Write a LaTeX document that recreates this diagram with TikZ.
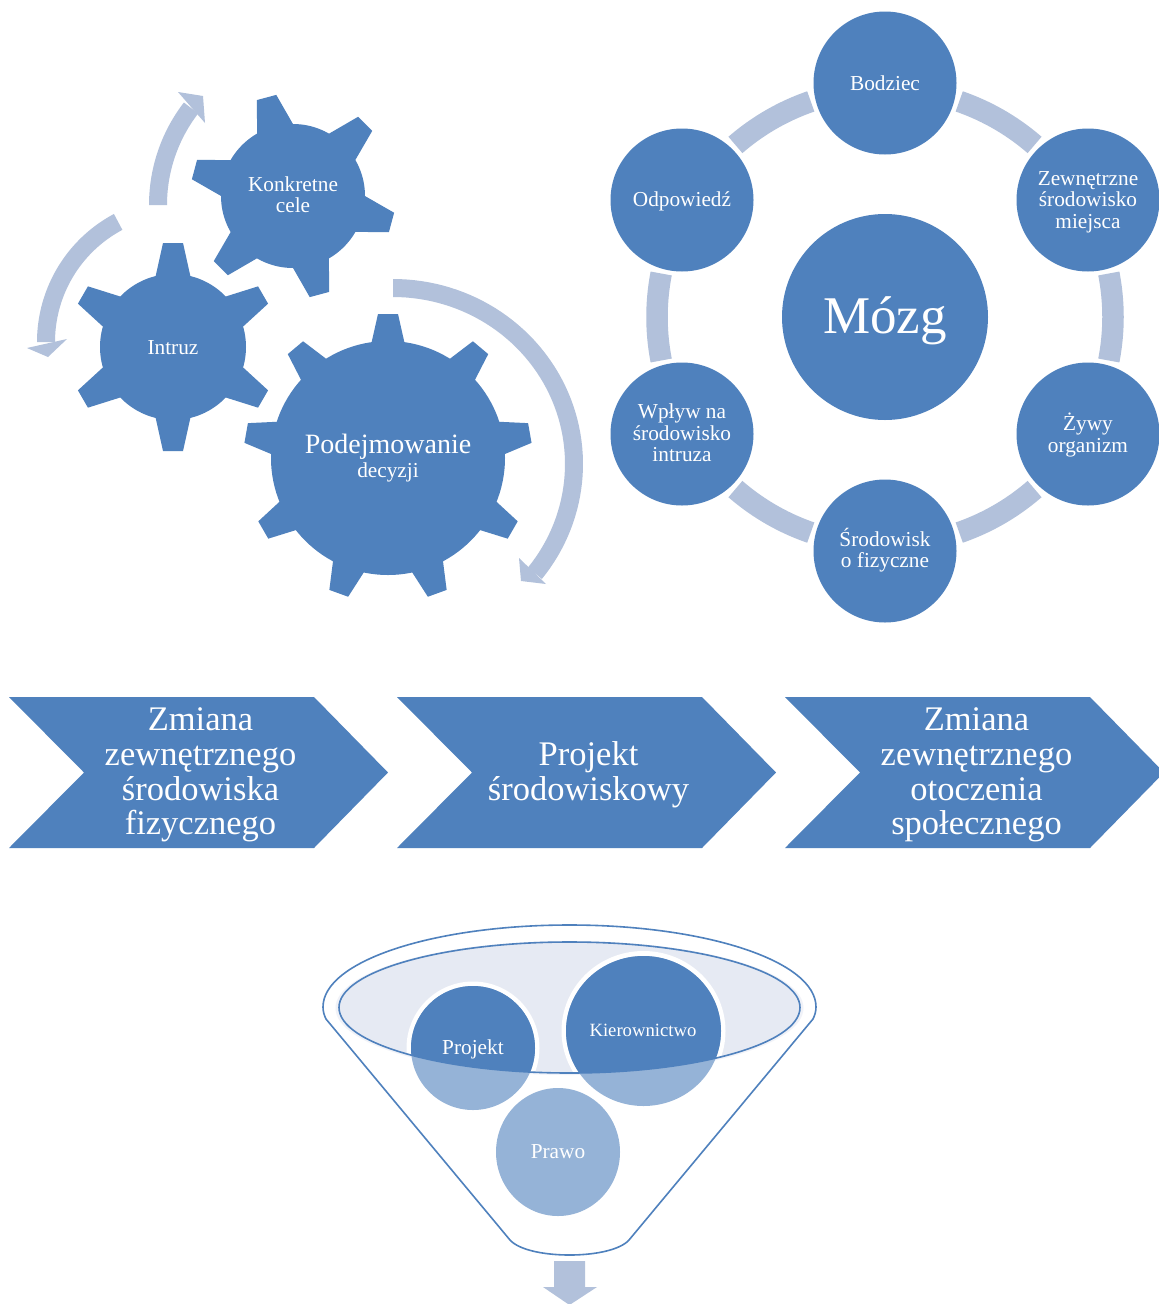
\documentclass[tikz,border=0pt]{standalone}
\usepackage{fontspec}
\usetikzlibrary{shapes.geometric}
\setmainfont{Liberation Serif}
\definecolor{dkblue}{HTML}{4F81BD}
\definecolor{ltarrow}{HTML}{B2C1DB}
\definecolor{midblue}{HTML}{95B3D7}
\definecolor{palefill}{HTML}{E6EAF3}
\definecolor{glowfill}{HTML}{F0F2F8}
\tikzset{
  every node/.style={text=white,align=center,inner sep=0pt},
  disc/.style={circle,fill=dkblue,draw=none},
  txt/.style={font={\fontsize{21.3}{21.3}\selectfont}},
  band/.style={draw=ltarrow,line width=21.5pt,line cap=butt},
  chev/.style={fill=dkblue,draw=none},
  chevtxt/.style={font={\fontsize{34.5}{34.7}\selectfont}},
  rim/.style={draw=dkblue,line width=1.6pt,fill=white},
  lt/.style={fill=ltarrow,draw=none}
}
% #1 cx, #2 cy, #3 body radius, #4 tip radius, #5 base half, #6 tip half, #7 start angle, #8 next angle, #9 last angle
\newcommand{\mygearteeth}[9]{%
  \foreach \a in {#7,#8,...,#9}{%
    \begin{scope}[shift={(#1,#2)},rotate=\a]
      \fill[dkblue] (#3-4,-#5) -- (#4,-#6) -- (#4,#6) -- (#3-4,#5) -- cycle;
    \end{scope}
  }%
}
\begin{document}
\begin{tikzpicture}[x=1pt,y=-1pt]
\clip (0,0) rectangle (1159,1304);
\fill[white] (0,0) rectangle (1159,1304);

% gears
\mygearteeth{293}{196}{72}{102}{19}{10}{105}{165}{405}
\node[disc,minimum size=144pt] (gearA) at (293,196) {};
\node[txt] (gearAt) at (293,194.5) {Konkretne\\cele};
\mygearteeth{173}{347}{72}{104}{18}{10}{90}{150}{390}
\node[disc,minimum size=146pt] (gearB) at (173,347) {};
\node[txt] (gearBt) at (173,347.5) {Intruz};
\mygearteeth{388}{458}{117}{144}{17}{10}{90}{130}{410}
\node[disc,minimum size=234pt] (gearC) at (388,458) {\fontsize{28}{30}\selectfont Podejmowanie\\[2pt]\fontsize{21.3}{22}\selectfont decyzji};

% curved arrows round the gears
\fill[ltarrow] plot[domain=90:-38.4,samples=60] ({393+190*cos(\x)},{464-185*sin(\x)})
  -- plot[domain=-38.4:90,samples=60] ({393+172*cos(\x)},{464-167*sin(\x)}) -- cycle;
\fill[lt] (519,558) -- (546,584) -- (521,581) -- cycle;
\fill[ltarrow] plot[domain=118:180,samples=40] ({182+145*cos(\x)},{342-145*sin(\x)})
  -- plot[domain=180:118,samples=40] ({182+127*cos(\x)},{342-127*sin(\x)}) -- cycle;
\fill[lt] (27,348) -- (67,339) -- (48,357) -- cycle;
\fill[ltarrow] plot[domain=180:142.4,samples=40] ({317+168*cos(\x)},{205-168*sin(\x)})
  -- plot[domain=142.4:180,samples=40] ({317+150*cos(\x)},{205-150*sin(\x)}) -- cycle;
\fill[lt] (178,92) -- (203,96) -- (205,123) -- cycle;

% ring
\foreach \m in {60,0,-60,-120,180,120}{
  \draw[band] plot[domain=\m-11:\m+11,samples=25] ({885+228*cos(\x)},{317-228*sin(\x)});
}
\node[disc,minimum size=206pt] (brain) at (885,317) {};
\node[font={\fontsize{53}{55}\selectfont}] (brainT) at (885,321) {Mózg};
\node[disc,minimum size=143pt,txt] (c1) at (885,83) {Bodziec};
\node[disc,minimum size=143pt] (c2) at (1088,200) {};
\node[txt] (c2t) at (1088,202) {Zewnętrzne\\środowisko\\miejsca};
\node[disc,minimum size=143pt] (c3) at (1088,434) {};
\node[txt] (c3t) at (1088,435) {Żywy\\organizm};
\node[disc,minimum size=143pt] (c4) at (885,551) {};
\node[txt] (c4t) at (885,550) {Środowisk\\o fizyczne};
\node[disc,minimum size=143pt] (c5) at (682,434) {};
\node[txt] (c5t) at (682,433) {Wpływ na\\środowisko\\intruza};
\node[disc,minimum size=143pt] (c6) at (682,200) {};
\node[txt] (c6t) at (682,201) {Odpowiedź};

% chevrons
\foreach \dx in {0,388,776}{
  \fill[chev] (9+\dx,697) -- (314+\dx,697) -- (388+\dx,772.5) -- (314+\dx,848) -- (9+\dx,848) -- (84+\dx,772.5) -- cycle;
}
\node[chevtxt] (t1) at (200.5,775) {Zmiana\\zewnętrznego\\środowiska\\fizycznego};
\node[chevtxt] (t2) at (588.5,775) {Projekt\\środowiskowy};
\node[chevtxt] (t3) at (976.5,775) {Zmiana\\zewnętrznego\\otoczenia\\społecznego};

% funnel
\path[rim] (326,1019) .. controls (324,1015) and (323,1011) .. (323,1007)
  .. controls (323,961) and (433.5,925) .. (569.5,925)
  .. controls (705.5,925) and (816,961) .. (816,1007)
  .. controls (816,1011) and (815,1015) .. (813,1019)
  -- (629,1240) .. controls (620,1250) and (595,1255) .. (569.5,1255)
  .. controls (544,1255) and (519,1250) .. (510,1240) -- cycle;
\fill[glowfill] (569.5,1008) ellipse [x radius=234pt,y radius=67pt];
\fill[palefill] (569.5,1007.5) ellipse [x radius=230.5pt,y radius=65.5pt];
\begin{scope}
  \clip (569.5,1007.5) ellipse [x radius=230.5pt,y radius=65.5pt];
  \fill[white] (473,1048) circle [radius=66.5pt];
  \fill[white] (643.5,1031) ellipse [x radius=82pt,y radius=80pt];
\end{scope}
\fill[midblue] (473,1048) circle [radius=62pt];
\fill[midblue] (643.5,1031) ellipse [x radius=77.5pt,y radius=75pt];
\begin{scope}
  \clip (569.5,1007.5) ellipse [x radius=230.5pt,y radius=65.5pt];
  \fill[dkblue] (473,1048) circle [radius=62pt];
  \fill[dkblue] (643.5,1031) ellipse [x radius=77.5pt,y radius=75pt];
\end{scope}
\draw[dkblue,line width=1.6pt] (569.5,1007.5) ellipse [x radius=230.5pt,y radius=65.5pt];
\node[ellipse,fill=midblue,minimum width=124pt,minimum height=128pt] (law) at (558,1152) {};
\node[txt] (lawT) at (558,1152) {Prawo};
\node[txt] (proj) at (473,1049) {Projekt};
\node[font={\fontsize{18.7}{20}\selectfont}] (mgmt) at (643,1030) {Kierownictwo};

% output arrow
\fill[lt] (554,1261) -- (585,1261) -- (585,1287) -- (597,1287) -- (569.5,1305) -- (543,1287) -- (554,1287) -- cycle;
\end{tikzpicture}
\end{document}
